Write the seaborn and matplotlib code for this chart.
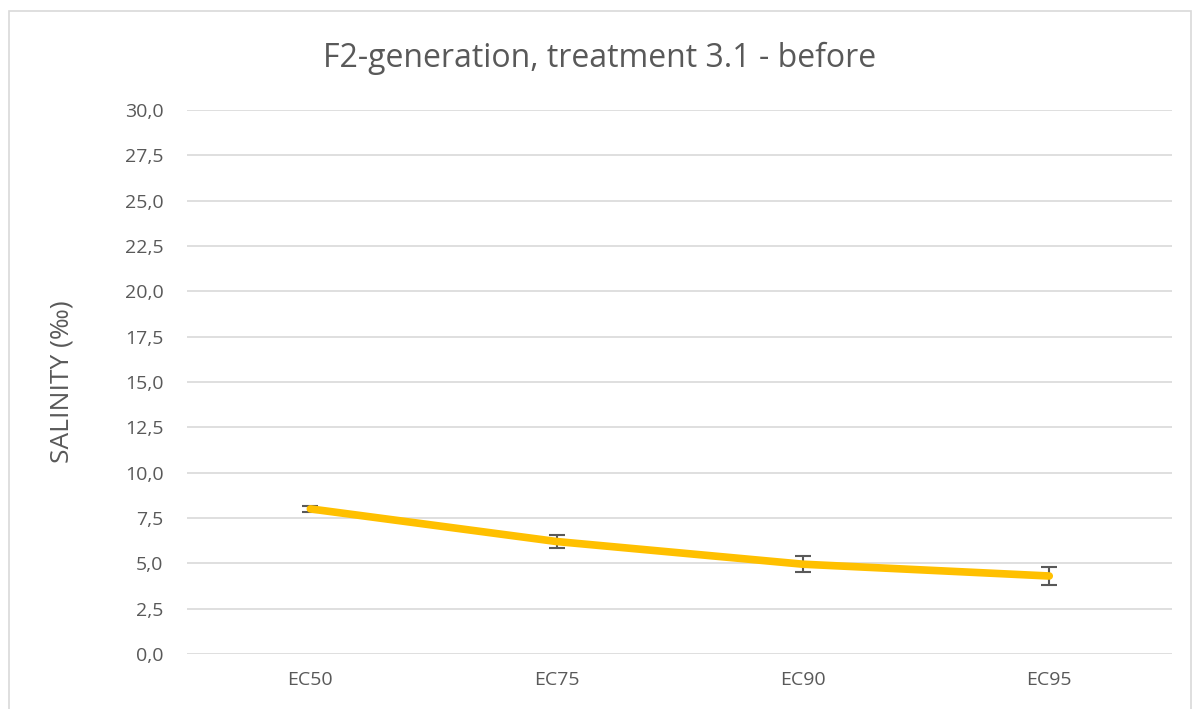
import numpy as np
import pandas as pd
import matplotlib
matplotlib.use("Agg")
import matplotlib.pyplot as plt
import seaborn as sns
from matplotlib.ticker import FuncFormatter
from matplotlib.patches import Rectangle

# dados
categorias = ["EC50", "EC75", "EC90", "EC95"]
salinidade = [8.0, 6.2, 4.95, 4.3]
erro = [0.15, 0.36, 0.44, 0.48]

df = pd.DataFrame({"cat": categorias, "sal": salinidade, "err": erro})

sns.set_theme(style="white")
plt.rcParams["font.family"] = ["Open Sans", "DejaVu Sans"]

fig = plt.figure(figsize=(12, 7.09), dpi=100)
ax = fig.add_axes([0.156, 0.0776, 0.821, 0.7674])

# borda da área do gráfico
fig.patches.append(Rectangle((0.0075, -0.01), 0.985, 0.995, transform=fig.transFigure,
                             fill=False, edgecolor="#D9D9D9", linewidth=1.2))

# barras de erro
ax.errorbar(np.arange(len(categorias)), df["sal"], yerr=df["err"], fmt="none",
            ecolor="#595959", elinewidth=1.5, capsize=6, capthick=1.5, zorder=2)

sns.lineplot(data=df, x="cat", y="sal", color="#FFC000", linewidth=5.5, ax=ax,
             sort=False, zorder=3, solid_capstyle="round", solid_joinstyle="round")

ax.set_ylim(0, 30)
ax.set_xlim(-0.5, 3.5)
ax.set_yticks(np.arange(0, 30.1, 2.5))
ax.yaxis.set_major_formatter(FuncFormatter(lambda v, p: f"{v:.1f}".replace(".", ",")))
ax.grid(axis="y", color="#D9D9D9", linewidth=1.2)
ax.grid(axis="x", visible=False)
for s in ax.spines.values():
    s.set_visible(False)
ax.tick_params(axis="both", length=0, labelsize=14, colors="#595959")
ax.tick_params(axis="y", pad=17)
ax.tick_params(axis="x", pad=12)

ax.set_xlabel("")
ax.set_ylabel("SALINITY (‰)", fontsize=19, color="#595959", labelpad=36)
fig.text(0.5, 0.918, "F2-generation, treatment 3.1 - before", fontsize=23,
         color="#595959", ha="center", va="center")

fig.savefig("out.png", dpi=100)
